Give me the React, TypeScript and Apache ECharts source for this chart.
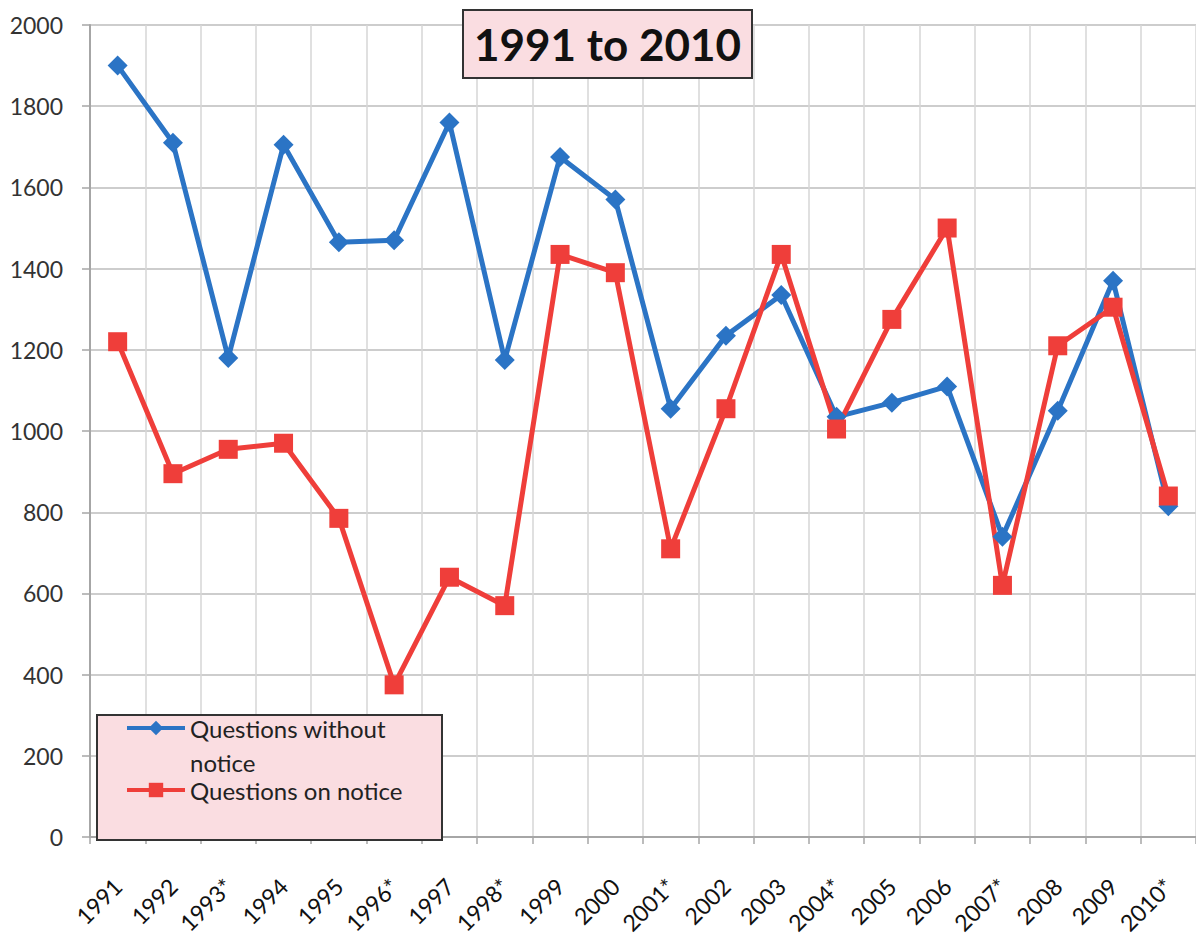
import React, { useEffect, useRef } from "react";
import * as echarts from "echarts";

const categories = ["1991", "1992", "1993*", "1994", "1995", "1996*", "1997", "1998*", "1999", "2000", "2001*", "2002", "2003", "2004*", "2005", "2006", "2007*", "2008", "2009", "2010*"];
const withoutNotice = [1900, 1710, 1180, 1705, 1465, 1470, 1760, 1175, 1675, 1570, 1055, 1235, 1335, 1035, 1070, 1110, 740, 1050, 1370, 815];
const onNotice = [1220, 895, 955, 970, 785, 375, 640, 570, 1435, 1390, 710, 1055, 1435, 1005, 1275, 1500, 620, 1210, 1305, 840];
const seriesNames = ["Questions without notice", "Questions on notice"];
const titleText = "1991 to 2010";

const FONT = "Lato, 'Liberation Sans', sans-serif";
const BLUE = "#2b74c5";
const RED = "#ef3e3a";

export default function App() {
  const ref = useRef<HTMLDivElement>(null);
  useEffect(() => {
    if (!ref.current) return;
    const chart = echarts.init(ref.current, null, { renderer: "svg" });
    chart.setOption({
      animation: false,
      backgroundColor: "#ffffff",
      textStyle: { fontFamily: FONT },
      title: {
        text: titleText,
        left: 463,
        top: 10,
        padding: [8, 11],
        backgroundColor: "#fadde1",
        borderColor: "#333333",
        borderWidth: 2,
        textStyle: { fontFamily: FONT, fontWeight: "bold", fontSize: 44, color: "#111111", lineHeight: 52 },
      },
      grid: { left: 90, top: 25, width: 1111, height: 818, containLabel: false },
      xAxis: {
        type: "category",
        data: categories,
        boundaryGap: true,
        axisLine: { lineStyle: { color: "#a6a6a6", width: 2 } },
        axisTick: { show: true, length: 7, interval: 0, lineStyle: { color: "#a6a6a6", width: 1.5 } },
        axisLabel: { interval: 0, rotate: 45, margin: 45, fontSize: 23, color: "#111111", fontFamily: FONT },
        splitLine: { show: true, interval: 0, lineStyle: { color: "#d6d6d6", width: 1.5 } },
      },
      yAxis: {
        type: "value",
        min: 0,
        max: 2000,
        interval: 200,
        axisLine: { show: true, lineStyle: { color: "#a6a6a6", width: 2 } },
        axisTick: { show: true, length: 8, lineStyle: { color: "#a6a6a6", width: 1.5 } },
        axisLabel: { margin: 27, fontSize: 23, color: "#333333", fontFamily: FONT, formatter: (v: number) => String(v) },
        splitLine: { show: true, lineStyle: { color: "#bdbdbd", width: 1.5 } },
      },
      legend: {
        show: true,
        orient: "vertical",
        left: 125,
        top: 677,
        padding: 0,
        itemGap: -6,
        itemWidth: 58,
        itemHeight: 18,
        selectedMode: false,
        data: seriesNames,
        lineStyle: { width: 4 },
        formatter: (name: string) => (name === seriesNames[0] ? "\nQuestions without\nnotice" : name),
        textStyle: { fontFamily: FONT, fontSize: 24, lineHeight: 34, color: "#222222" },
      },
      graphic: [
        {
          type: "rect",
          z: 3,
          shape: { x: 97, y: 715, width: 345, height: 125 },
          style: { fill: "#fadde1", stroke: "#333333", lineWidth: 2 },
        },
      ],
      series: [
        {
          name: seriesNames[0],
          type: "line",
          data: withoutNotice,
          symbol: "diamond",
          symbolSize: [20, 20],
          lineStyle: { color: BLUE, width: 5 },
          itemStyle: { color: BLUE },
          z: 2,
        },
        {
          name: seriesNames[1],
          type: "line",
          data: onNotice,
          symbol: "rect",
          symbolSize: 19,
          lineStyle: { color: RED, width: 5 },
          itemStyle: { color: RED },
          z: 2,
        },
      ],
    });
    return () => chart.dispose();
  }, []);
  return <div ref={ref} style={{ position: "fixed", left: 0, top: 0, width: 1196, height: 937 }} />;
}
